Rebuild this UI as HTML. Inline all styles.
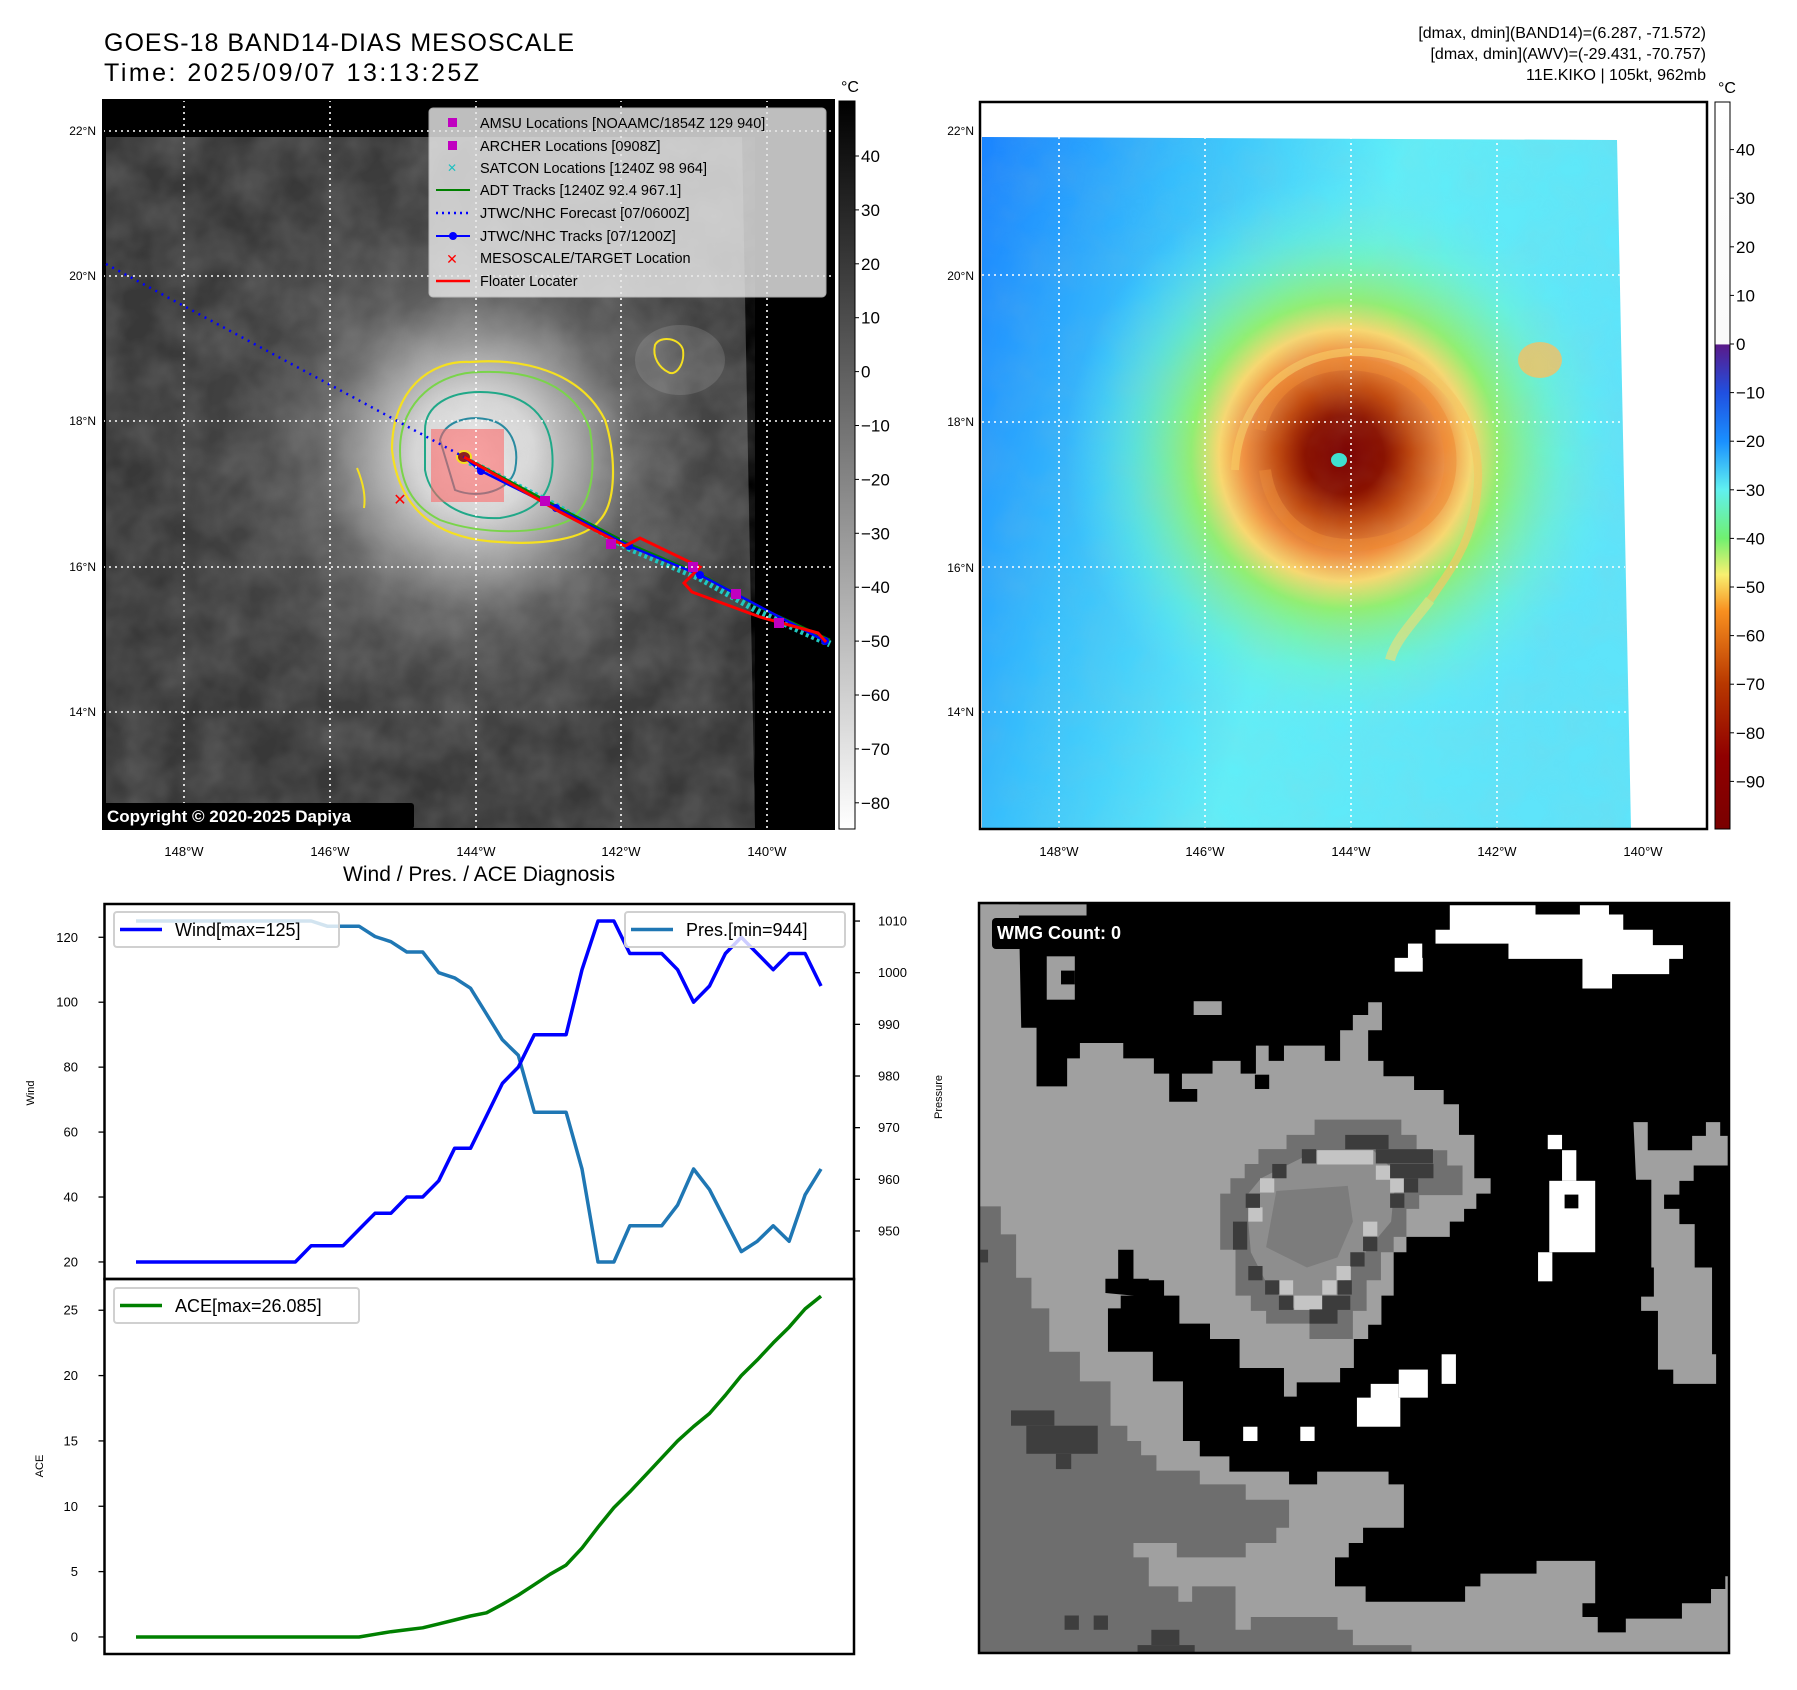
<!DOCTYPE html>
<html><head><meta charset="utf-8"><style>
html,body{margin:0;padding:0;background:#fff}
svg{display:block;font-family:"Liberation Sans","DejaVu Sans",sans-serif}
</style></head><body>
<svg id="root" width="1797" height="1690" viewBox="0 0 1797 1690" xmlns="http://www.w3.org/2000/svg">
<defs>
<filter id="tex" x="0" y="0" width="1" height="1">
<feTurbulence type="fractalNoise" baseFrequency="0.025" numOctaves="3" seed="4"/>
<feColorMatrix type="matrix" values="0 0 0 0 0.5  0 0 0 0 0.5  0 0 0 0 0.5  0.6 0 0 0 -0.15"/>
</filter>
<radialGradient id="stormGray" cx="475" cy="455" r="330" gradientUnits="userSpaceOnUse">
<stop offset="0" stop-color="#f0f0f0"/><stop offset="0.18" stop-color="#d8d8d8"/><stop offset="0.32" stop-color="#a0a0a0"/><stop offset="0.48" stop-color="#606060"/><stop offset="0.7" stop-color="#444"/><stop offset="1" stop-color="#383838"/>
</radialGradient>
<linearGradient id="bgBlue" x1="0" y1="0" x2="1" y2="0.3">
<stop offset="0" stop-color="#1a84ff"/><stop offset="0.3" stop-color="#38c0fc"/><stop offset="0.6" stop-color="#60eef8"/><stop offset="1" stop-color="#5ee4fa"/>
</linearGradient>
<radialGradient id="stormColor" cx="1345" cy="455" r="280" gradientUnits="userSpaceOnUse">
<stop offset="0" stop-color="#7a0000"/><stop offset="0.14" stop-color="#8a1200"/><stop offset="0.24" stop-color="#c04a10"/><stop offset="0.36" stop-color="#f09040"/><stop offset="0.45" stop-color="#f8d870"/><stop offset="0.55" stop-color="#90f070"/><stop offset="0.78" stop-color="#70f6c8" stop-opacity="0.5"/><stop offset="1" stop-color="#60eef8" stop-opacity="0"/>
</radialGradient>
<linearGradient id="cbGray" x1="0" y1="0" x2="0" y2="1">
<stop offset="0" stop-color="#000"/><stop offset="1" stop-color="#fff"/>
</linearGradient>
<linearGradient id="cbColor" x1="0" y1="0" x2="0" y2="1">
<stop offset="0" stop-color="#ffffff"/><stop offset="0.333" stop-color="#fafafa"/><stop offset="0.334" stop-color="#5a1a8a"/>
<stop offset="0.4" stop-color="#2050e0"/><stop offset="0.467" stop-color="#1a90ff"/><stop offset="0.533" stop-color="#60f0f0"/>
<stop offset="0.6" stop-color="#70f070"/><stop offset="0.65" stop-color="#f8f070"/><stop offset="0.7" stop-color="#f89020"/>
<stop offset="0.8" stop-color="#b83800"/><stop offset="0.9" stop-color="#900000"/><stop offset="1" stop-color="#7a0000"/>
</linearGradient>
<clipPath id="clipL"><rect x="103" y="100" width="731" height="729"/></clipPath>
<clipPath id="clipR"><rect x="980" y="102" width="727" height="727"/></clipPath>
</defs>

<!-- Titles -->
<text x="104" y="51" font-size="25" textLength="470">GOES-18 BAND14-DIAS MESOSCALE</text>
<text x="104" y="81" font-size="25" textLength="375">Time: 2025/09/07 13:13:25Z</text>
<g font-size="16" text-anchor="end">
<text x="1706" y="38">[dmax, dmin](BAND14)=(6.287, -71.572)</text>
<text x="1706" y="59">[dmax, dmin](AWV)=(-29.431, -70.757)</text>
<text x="1706" y="80">11E.KIKO | 105kt, 962mb</text>
</g>

<!-- LEFT MAP -->
<g clip-path="url(#clipL)">
<rect x="103" y="100" width="731" height="729" fill="#000"/>
<polygon points="106,137 742,137 755,829 106,829" fill="url(#stormGray)"/>
<polygon points="106,137 742,137 755,829 106,829" filter="url(#tex)" opacity="0.6"/>
<ellipse cx="680" cy="360" rx="45" ry="35" fill="#fff" opacity="0.12"/>
<path d="M392,450 C392,390 430,360 470,362 C520,358 580,370 605,420 C615,450 618,500 600,520 C585,540 540,545 500,542 C450,540 400,520 392,450 Z" fill="none" stroke="#f5e020" stroke-width="2.2"/>
<path d="M400,450 C400,400 440,372 480,372 C530,370 575,385 590,430 C596,470 592,505 570,520 C540,535 480,535 440,520 C410,505 400,480 400,450 Z" fill="none" stroke="#7ad44a" stroke-width="2"/>
<path d="M425,430 C425,405 450,392 480,392 C520,392 548,410 552,450 C556,490 540,512 500,518 C460,520 430,500 425,470 Z" fill="none" stroke="#20a888" stroke-width="2"/>
<path d="M440,440 C445,420 470,415 490,420 C510,425 520,445 515,470 C510,490 480,500 455,490 Z" fill="none" stroke="#2a8aa0" stroke-width="2"/>
<path d="M655,345 C660,335 680,338 683,350 C685,365 675,377 668,372 C660,368 652,358 655,345 Z" fill="none" stroke="#f5e020" stroke-width="2"/>
<path d="M357,468 C362,480 366,495 364,508" fill="none" stroke="#f5e020" stroke-width="2"/>
<rect x="431" y="429" width="73" height="73" fill="#ff6060" opacity="0.55"/>
<ellipse cx="464" cy="457" rx="7" ry="6" fill="#8a2020" stroke="#f5e020" stroke-width="2"/>
<polyline points="106,264 464,457" fill="none" stroke="#0000ff" stroke-width="2.5" stroke-dasharray="2 5"/>
<polyline points="470,462 556,506 629,548 700,578 760,612 830,644" fill="none" stroke="#20c8c0" stroke-width="7" stroke-dasharray="3 3"/>
<polyline points="464,457 556,506 629,544 700,574 765,610 830,640" fill="none" stroke="#008000" stroke-width="2.5"/>
<polyline points="464,457 481,471 556,508 629,546 700,575 825,641" fill="none" stroke="#0000ff" stroke-width="2.5"/>
<g fill="#0000ff"><circle cx="481" cy="471" r="4"/><circle cx="556" cy="508" r="4"/><circle cx="629" cy="546" r="4"/><circle cx="700" cy="575" r="4"/><circle cx="825" cy="641" r="4"/></g>
<polyline points="464,457 560,512 625,546 640,538 700,567 684,583 692,592 760,617 818,633 826,642" fill="none" stroke="#ff0000" stroke-width="3"/>
<g fill="#c000c0"><rect x="606" y="539" width="10" height="10"/><rect x="688" y="562" width="10" height="10"/><rect x="731" y="589" width="10" height="10"/><rect x="774" y="618" width="10" height="10"/><rect x="540" y="496" width="10" height="10"/></g>
<text x="400" y="505" font-size="16" font-weight="bold" fill="#ff0000" text-anchor="middle">✕</text>
<g stroke="#fff" stroke-width="1.6" stroke-dasharray="2 4">
<line x1="184" y1="100" x2="184" y2="829"/><line x1="330" y1="100" x2="330" y2="829"/><line x1="476" y1="100" x2="476" y2="829"/><line x1="621" y1="100" x2="621" y2="829"/><line x1="767" y1="100" x2="767" y2="829"/>
<line x1="103" y1="131" x2="834" y2="131"/><line x1="103" y1="276" x2="834" y2="276"/><line x1="103" y1="421" x2="834" y2="421"/><line x1="103" y1="567" x2="834" y2="567"/><line x1="103" y1="712" x2="834" y2="712"/>
</g>
<g>
<rect x="429" y="108" width="397" height="189" rx="4" fill="#e8e8e8" opacity="0.82" stroke="#ccc"/>
<g font-size="14.5" fill="#000">
<rect x="448" y="118" width="9" height="9" fill="#c000c0"/><text x="480" y="128">AMSU Locations [NOAAMC/1854Z 129 940]</text>
<rect x="448" y="141" width="9" height="9" fill="#c000c0"/><text x="480" y="151">ARCHER Locations [0908Z]</text>
<text x="452" y="172" fill="#20c0c0" font-size="12" text-anchor="middle" font-weight="bold">✕</text><text x="480" y="173">SATCON Locations [1240Z 98 964]</text>
<line x1="436" y1="190" x2="470" y2="190" stroke="#008000" stroke-width="2"/><text x="480" y="195">ADT Tracks [1240Z 92.4 967.1]</text>
<line x1="436" y1="213" x2="470" y2="213" stroke="#0000ff" stroke-width="2.5" stroke-dasharray="2 4"/><text x="480" y="218">JTWC/NHC Forecast [07/0600Z]</text>
<line x1="436" y1="236" x2="470" y2="236" stroke="#0000ff" stroke-width="2"/><circle cx="453" cy="236" r="4" fill="#0000ff"/><text x="480" y="241">JTWC/NHC Tracks [07/1200Z]</text>
<text x="452" y="264" fill="#ff0000" font-size="14" text-anchor="middle" font-weight="bold">✕</text><text x="480" y="263">MESOSCALE/TARGET Location</text>
<line x1="436" y1="281" x2="470" y2="281" stroke="#ff0000" stroke-width="2.5"/><text x="480" y="286">Floater Locater</text>
</g></g>
<rect x="102" y="803" width="312" height="26" rx="3" fill="#000"/>
<text x="107" y="822" font-size="17" font-weight="bold" fill="#fff">Copyright © 2020-2025 Dapiya</text>
</g>
<rect x="103" y="100" width="731" height="729" fill="none" stroke="#000" stroke-width="2"/>
<g font-size="12" text-anchor="end">
<text x="96" y="135">22°N</text><text x="96" y="280">20°N</text><text x="96" y="425">18°N</text><text x="96" y="571">16°N</text><text x="96" y="716">14°N</text>
</g>
<g font-size="13" text-anchor="middle">
<text x="184" y="856">148°W</text><text x="330" y="856">146°W</text><text x="476" y="856">144°W</text><text x="621" y="856">142°W</text><text x="767" y="856">140°W</text>
</g>
<g>
<rect x="839" y="101" width="16" height="728" fill="url(#cbGray)" stroke="#000" stroke-width="1"/>
<text x="850" y="92" font-size="16" text-anchor="middle">°C</text>
<g font-size="17" id="cbL"></g>
</g>

<!-- RIGHT MAP -->
<g clip-path="url(#clipR)">
<rect x="980" y="102" width="727" height="727" fill="#fff"/>
<polygon points="982,137 1617,140 1631,829 982,829" fill="url(#bgBlue)"/>
<clipPath id="dataR"><polygon points="982,137 1617,140 1631,829 982,829"/></clipPath>
<g clip-path="url(#dataR)">
<ellipse cx="1345" cy="460" rx="300" ry="290" fill="url(#stormColor)"/>
<path d="M1260,430 C1270,380 1320,360 1360,365 C1420,370 1455,420 1450,470 C1445,520 1400,545 1350,545 C1300,545 1270,510 1265,470" fill="none" stroke="#f08a30" stroke-width="12" opacity="0.5"/>
<path d="M1235,470 C1238,400 1290,350 1360,352 C1440,355 1480,420 1478,480 C1476,540 1450,570 1430,600" fill="none" stroke="#f8c860" stroke-width="8" opacity="0.7"/>
<path d="M1430,600 C1415,620 1395,640 1390,660" fill="none" stroke="#f8e070" stroke-width="10" opacity="0.6"/>
<ellipse cx="1540" cy="360" rx="22" ry="18" fill="#f8c060" opacity="0.8"/>
<rect x="982" y="137" width="650" height="700" filter="url(#tex)" opacity="0.25"/>
<ellipse cx="1339" cy="460" rx="8" ry="7" fill="#40e0d0"/>
</g>
<g stroke="#fff" stroke-width="1.6" stroke-dasharray="2 4">
<line x1="1059" y1="137" x2="1059" y2="829"/><line x1="1205" y1="137" x2="1205" y2="829"/><line x1="1351" y1="137" x2="1351" y2="829"/><line x1="1497" y1="137" x2="1497" y2="829"/>
<line x1="982" y1="275" x2="1620" y2="275"/><line x1="982" y1="422" x2="1622" y2="422"/><line x1="982" y1="567" x2="1625" y2="567"/><line x1="982" y1="712" x2="1628" y2="712"/>
</g>
</g>
<rect x="980" y="102" width="727" height="727" fill="none" stroke="#000" stroke-width="2.5"/>
<g font-size="12" text-anchor="end">
<text x="974" y="135">22°N</text><text x="974" y="280">20°N</text><text x="974" y="426">18°N</text><text x="974" y="572">16°N</text><text x="974" y="716">14°N</text>
</g>
<g font-size="13" text-anchor="middle">
<text x="1059" y="856">148°W</text><text x="1205" y="856">146°W</text><text x="1351" y="856">144°W</text><text x="1497" y="856">142°W</text><text x="1643" y="856">140°W</text>
</g>
<g>
<rect x="1715" y="102" width="15" height="727" fill="url(#cbColor)" stroke="#000" stroke-width="1"/>
<text x="1727" y="93" font-size="16" text-anchor="middle">°C</text>
<g font-size="17" id="cbR"></g>
</g>

<!-- DIAGNOSIS CHART -->
<text x="479" y="881" font-size="21" text-anchor="middle">Wind / Pres. / ACE Diagnosis</text>
<g id="chart"></g>

<!-- WMG PANEL -->
<g>
<clipPath id="clipW"><rect x="979" y="903" width="750" height="750"/></clipPath>
<g clip-path="url(#clipW)">
<rect x="979" y="903" width="750" height="750" fill="#000"/>
<g transform="translate(960,890) scale(0.5102)">
<polygon fill="#a0a0a0" points="40,28 115,28 120,270 150,270 150,385 210,385 210,330 235,330 235,300 320,300 320,330 380,330 380,360 410,360 410,415 465,415 465,390 435,390 435,360 495,360 495,335 550,335 550,360 580,360 580,305 605,305 605,335 635,335 635,305 715,305 715,335 745,335 745,275 770,275 770,245 800,245 800,220 827,220 827,275 800,275 800,335 830,335 830,365 890,365 890,392 948,392 948,420 978,420 978,480 1008,480 1008,565 1040,565 1040,595 1012,595 1012,625 988,625 988,650 960,650 960,680 875,680 875,710 850,710 850,795 826,795 826,852 800,852 800,880 772,880 772,937 745,937 745,965 660,965 660,993 635,993 635,937 548,937 548,880 490,880 490,850 430,850 430,795 400,795 400,765 340,765 340,795 315,795 315,820 290,820 290,905 378,905 378,963 437,963 437,1080 470,1080 470,1110 528,1110 528,1140 645,1140 645,1165 700,1165 700,1140 840,1140 840,1165 870,1165 870,1250 790,1250 790,1280 762,1280 762,1308 735,1308 735,1365 795,1365 795,1395 990,1395 990,1365 1020,1365 1020,1340 1130,1340 1130,1315 1245,1315 1245,1398 1220,1398 1220,1425 1250,1425 1250,1455 1305,1455 1305,1428 1415,1428 1415,1398 1472,1398 1472,1370 1500,1370 1500,1345 1510,1345 1510,1500 35,1500 35,28"/>
<polygon fill="#a0a0a0" points="40,28 248,28 248,50 40,50"/>
<rect x="170" y="130" width="55" height="85" fill="#a0a0a0"/><rect x="198" y="158" width="27" height="27" fill="#000"/>
<rect x="458" y="218" width="55" height="27" fill="#a0a0a0"/>
<rect x="578" y="362" width="28" height="28" fill="#000"/>
<polygon fill="#000" points="310,705 340,705 340,762 370,762 370,795 340,795 285,790 285,762 310,762"/>
<polygon fill="#6e6e6e" points="35,620 80,620 80,675 110,675 110,760 140,760 140,820 175,820 175,905 235,905 235,963 295,963 295,1050 328,1050 328,1080 355,1080 355,1108 385,1108 385,1138 470,1138 470,1165 560,1165 560,1195 645,1195 645,1250 620,1250 620,1280 560,1280 560,1308 425,1308 425,1280 340,1280 340,1308 370,1308 370,1365 428,1365 428,1395 455,1395 455,1365 540,1365 540,1450 570,1450 570,1425 740,1425 740,1450 770,1450 770,1480 885,1480 885,1500 35,1500"/>
<g fill="#3e3e3e"><rect x="100" y="1020" width="85" height="30"/><rect x="130" y="1050" width="140" height="55"/><rect x="188" y="1105" width="30" height="30"/><rect x="205" y="1422" width="28" height="28"/><rect x="262" y="1422" width="28" height="28"/><rect x="375" y="1450" width="55" height="30"/><rect x="348" y="1480" width="112" height="20"/><rect x="40" y="705" width="15" height="25"/></g>
<polygon fill="#a0a0a0" points="1320,455 1348,455 1348,510 1435,510 1435,482 1462,482 1462,455 1490,455 1490,482 1505,482 1505,540 1438,540 1438,570 1410,570 1410,597 1380,597 1380,625 1410,625 1410,655 1440,655 1440,740 1474,740 1474,910 1482,910 1482,968 1398,968 1398,940 1368,940 1368,825 1335,825 1335,797 1360,797 1360,740 1355,740 1355,568 1325,568"/>
<g fill="#fff">
<polygon points="960,30 1128,30 1128,48 1215,48 1215,30 1272,30 1272,48 1300,48 1300,78 1358,78 1358,108 1417,108 1417,135 1390,135 1390,165 1278,165 1278,193 1220,193 1220,135 1075,135 1075,105 932,105 932,78 960,78"/>
<rect x="878" y="105" width="28" height="30"/><rect x="852" y="133" width="55" height="27"/>
<rect x="1152" y="480" width="28" height="28"/><rect x="1180" y="510" width="28" height="60"/><rect x="1155" y="570" width="90" height="140"/><rect x="1133" y="710" width="28" height="57"/>
<rect x="944" y="910" width="28" height="58"/><rect x="860" y="940" width="57" height="55"/><rect x="805" y="968" width="55" height="28"/><rect x="778" y="995" width="85" height="57"/>
<rect x="555" y="1052" width="28" height="28"/><rect x="667" y="1052" width="28" height="28"/>
</g>
<rect x="1185" y="597" width="27" height="27" fill="#000"/>
<polygon fill="#707070" points="695,450 865,450 865,480 895,480 895,510 955,510 955,540 985,540 985,598 900,598 900,625 875,625 875,680 850,680 850,710 825,710 825,765 797,765 797,825 770,825 770,880 685,880 685,850 600,850 600,825 570,825 570,795 540,795 540,705 510,705 510,595 530,595 530,565 558,565 558,537 585,537 585,508 640,508 640,480 695,480"/>
<polygon fill="#8e8e8e" points="700,510 810,510 840,540 870,570 850,595 845,650 820,680 795,710 765,740 740,795 655,820 625,795 598,765 570,710 565,650 565,595 590,565 640,540"/>
<polygon fill="#7c7c7c" points="620,590 760,580 770,650 740,720 680,740 600,700"/>
<g fill="#c4c4c4"><rect x="588" y="565" width="28" height="28"/><rect x="565" y="622" width="28" height="28"/><rect x="815" y="540" width="28" height="28"/><rect x="843" y="565" width="28" height="28"/><rect x="738" y="737" width="28" height="28"/><rect x="710" y="765" width="28" height="28"/><rect x="655" y="795" width="55" height="28"/><rect x="700" y="510" width="110" height="28"/><rect x="625" y="765" width="28" height="28"/><rect x="790" y="650" width="28" height="28"/></g>
<g fill="#3c3c3c"><rect x="670" y="508" width="28" height="28"/><rect x="612" y="537" width="28" height="28"/><rect x="560" y="595" width="28" height="28"/><rect x="535" y="650" width="28" height="55"/><rect x="565" y="737" width="28" height="28"/><rect x="598" y="765" width="28" height="28"/><rect x="625" y="795" width="28" height="28"/><rect x="685" y="822" width="55" height="28"/><rect x="710" y="795" width="55" height="28"/><rect x="740" y="765" width="28" height="28"/><rect x="765" y="710" width="28" height="28"/><rect x="790" y="680" width="28" height="28"/><rect x="843" y="595" width="28" height="28"/><rect x="870" y="565" width="28" height="28"/><rect x="755" y="480" width="85" height="28"/><rect x="815" y="508" width="112" height="28"/><rect x="843" y="537" width="85" height="28"/></g>
</g>
</g>
<rect x="979" y="903" width="750" height="750" fill="none" stroke="#000" stroke-width="2.5"/>
<rect x="992" y="918" width="82" height="31" rx="4" fill="#000"/>
<text x="997" y="939" font-size="18" font-weight="bold" fill="#fff">WMG Count: 0</text>
</g>

<script>
// ---- chart data ----
const wind = [20,20,20,20,20,20,20,20,20,20,20,25,25,25,30,35,35,40,40,45,55,55,65,75,80,90,90,90,110,125,125,115,115,115,110,100,105,115,120,115,110,115,115,105];
const pres = [1010,1010,1010,1010,1010,1010,1010,1010,1010,1010,1010,1010,1009,1009,1009,1007,1006,1004,1004,1000,999,997,992,987,984,973,973,973,962,944,944,951,951,951,955,962,958,952,946,948,951,948,957,962];
const ace = [0,0,0,0,0,0,0,0,0,0,0,0,0,0,0,0.2,0.4,0.55,0.7,1.0,1.3,1.6,1.85,2.5,3.2,4.0,4.8,5.5,6.8,8.4,9.9,11.1,12.4,13.7,15.0,16.1,17.1,18.5,20.0,21.2,22.5,23.7,25.1,26.085];
const windTicks = [20,40,60,80,100,120];
const presTicks = [950,960,970,980,990,1000,1010];
const aceTicks = [0,5,10,15,20,25];
const cbGrayTicks = [40,30,20,10,0,-10,-20,-30,-40,-50,-60,-70,-80];
const cbColorTicks = [40,30,20,10,0,-10,-20,-30,-40,-50,-60,-70,-80,-90];

const NS = "http://www.w3.org/2000/svg";
function mk(tag, attrs, parent, txt){const e=document.createElementNS(NS,tag);for(const k in attrs)e.setAttribute(k,attrs[k]);if(txt!==undefined)e.textContent=txt;parent.appendChild(e);return e;}

const cbL=document.getElementById('cbL');
cbGrayTicks.forEach(v=>{const y=156+(40-v)*5.39;
 const t=mk('text',{x:861,y:y+6},cbL,(v<0?'\u2212'+(-v):String(v)));
 
 
 mk('line',{x1:855,y1:y,x2:859,y2:y,stroke:'#000'},cbL);});
const cbR=document.getElementById('cbR');
cbColorTicks.forEach(v=>{const y=344-v*4.86;
 const t=mk('text',{x:1736,y:y+6},cbR,(v<0?'\u2212'+(-v):String(v)));
 
 
 mk('line',{x1:1730,y1:y,x2:1734,y2:y,stroke:'#000'},cbR);});

const L=104.5,R=854,T=904,M=1279,B=1654;
const n=wind.length;
function xS(i){return 136+i*(821-136)/(n-1);}
const wMin=14.75,wMax=130.25; function yW(v){return M-(v-wMin)/(wMax-wMin)*(M-T);}
const pMin=940.7,pMax=1013.3; function yP(v){return M-(v-pMin)/(pMax-pMin)*(M-T);}
const aMin=-1.304,aMax=27.39; function yA(v){return B-(v-aMin)/(aMax-aMin)*(B-M);}
const g=document.getElementById('chart');
mk('rect',{x:L,y:T,width:R-L,height:B-T,fill:'#fff'},g);

function line(arr,yf,color,name){
 const pts=arr.map((v,i)=>xS(i).toFixed(1)+','+yf(v).toFixed(1)).join(' ');
 const p=mk('polyline',{points:pts,fill:'none',stroke:color,'stroke-width':3.5,'stroke-linejoin':'round'},g);
 
 
}
line(pres,yP,'#1f77b4','pressure-line');
line(wind,yW,'#0000ff','wind-line');
line(ace,yA,'#008000','ace-line');

windTicks.forEach(v=>{const y=yW(v);mk('line',{x1:L-6,y1:y,x2:L,y2:y,stroke:'#000','stroke-width':1.3},g);
 const t=mk('text',{x:78,y:y+4.5,'font-size':13,'text-anchor':'end'},g,String(v));
 
 });
presTicks.forEach(v=>{const y=yP(v);mk('line',{x1:R,y1:y,x2:R+6,y2:y,stroke:'#000','stroke-width':1.3},g);
 const t=mk('text',{x:878,y:y+4.5,'font-size':13},g,String(v));
 
 });
aceTicks.forEach(v=>{const y=yA(v);mk('line',{x1:L-6,y1:y,x2:L,y2:y,stroke:'#000','stroke-width':1.3},g);
 const t=mk('text',{x:78,y:y+4.5,'font-size':13,'text-anchor':'end'},g,String(v));
 
 });

mk('rect',{x:L,y:T,width:R-L,height:M-T,fill:'none',stroke:'#000','stroke-width':2.5},g);
mk('rect',{x:L,y:M,width:R-L,height:B-M,fill:'none',stroke:'#000','stroke-width':2.5},g);

const wt=mk('text',{x:0,y:0,'font-size':11,'text-anchor':'middle',transform:'translate(34,1093) rotate(-90)'},g,'Wind');


const pt=mk('text',{x:0,y:0,'font-size':11,'text-anchor':'middle',transform:'translate(942,1097) rotate(-90)'},g,'Pressure');


const at=mk('text',{x:0,y:0,'font-size':11,'text-anchor':'middle',transform:'translate(43,1466) rotate(-90)'},g,'ACE');



function legend(x,y,w,color,label,name){
 const lg=mk('g',{},g);
 
 
 mk('rect',{x:x,y:y,width:w,height:35,rx:3,fill:'#fff','fill-opacity':0.8,stroke:'#d0d0d0','stroke-width':2},lg);
 mk('line',{x1:x+6,y1:y+17.5,x2:x+48,y2:y+17.5,stroke:color,'stroke-width':3.5},lg);
 mk('text',{x:x+61,y:y+24,'font-size':18},lg,label);
}
legend(114,912,225,'#0000ff','Wind[max=125]','wind-legend');
legend(625,912,220,'#1f77b4','Pres.[min=944]','pressure-legend');
legend(114,1288,245,'#008000','ACE[max=26.085]','ace-legend');
</script>
</svg>
</body></html>
